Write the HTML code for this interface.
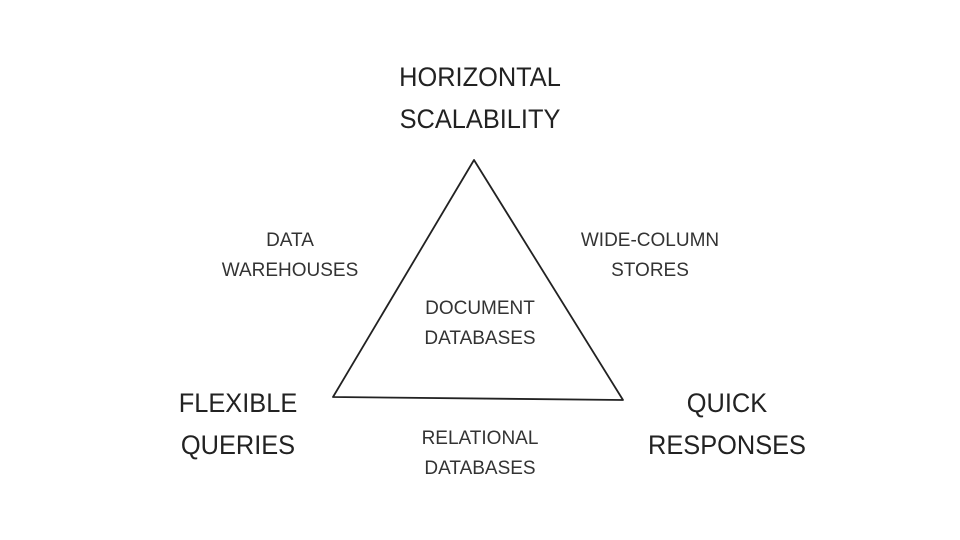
<!DOCTYPE html>
<html><head><style>
body{margin:0;width:960px;height:540px;background:#fff;overflow:hidden;position:relative;font-family:"Liberation Sans",sans-serif;color:#222}
.t{position:absolute;text-align:center;transform:translateX(-50%);white-space:nowrap;line-height:1}
.big{font-size:27px;transform:translateX(-50%) scaleX(0.94)}
.sm{font-size:19px;font-weight:300;color:#333}
</style></head><body>
<svg width="960" height="540" style="position:absolute;left:0;top:0">
<path d="M474 160 L333 397 L623 400 Z" fill="none" stroke="#222" stroke-width="1.8" stroke-linejoin="round"/>
</svg>
<div class="t big" style="left:480px;top:64px">HORIZONTAL</div>
<div class="t big" style="left:480px;top:106px">SCALABILITY</div>
<div class="t big" style="left:238px;top:390px">FLEXIBLE</div>
<div class="t big" style="left:238px;top:432px">QUERIES</div>
<div class="t big" style="left:727px;top:390px">QUICK</div>
<div class="t big" style="left:727px;top:432px">RESPONSES</div>
<div class="t sm" style="left:290px;top:231px">DATA</div>
<div class="t sm" style="left:290px;top:261px">WAREHOUSES</div>
<div class="t sm" style="left:650px;top:231px">WIDE-COLUMN</div>
<div class="t sm" style="left:650px;top:261px">STORES</div>
<div class="t sm" style="left:480px;top:299px">DOCUMENT</div>
<div class="t sm" style="left:480px;top:329px">DATABASES</div>
<div class="t sm" style="left:480px;top:429px">RELATIONAL</div>
<div class="t sm" style="left:480px;top:459px">DATABASES</div>
</body></html>
